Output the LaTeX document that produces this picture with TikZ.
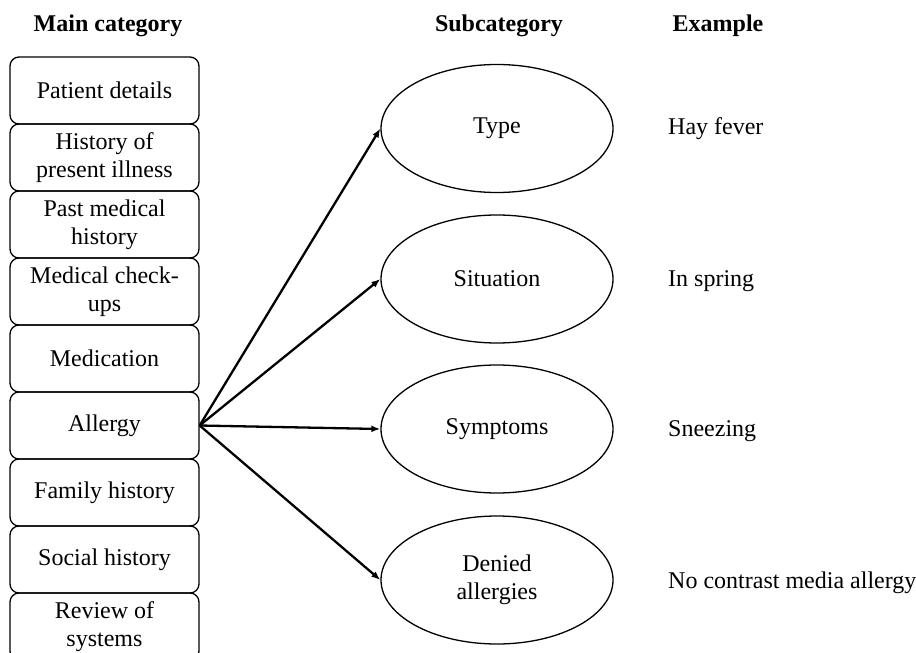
\documentclass[tikz,border=0pt]{standalone}
\usepackage{fontspec}
\setmainfont{Liberation Serif}
\usetikzlibrary{shapes.geometric,arrows.meta,positioning}

\begin{document}
\begin{tikzpicture}[
    x=1pt, y=-1pt,
    font=\fontsize{24}{28}\selectfont,
    head/.style = {font=\fontsize{24}{28}\selectfont\bfseries, inner sep=0pt},
    catbox/.style = {draw, rounded corners=9pt, line width=1.3pt,
        minimum width=189pt, minimum height=67pt, inner sep=0pt, align=center},
    subell/.style = {draw, ellipse, line width=1.3pt,
        minimum width=232pt, minimum height=128pt, inner sep=0pt, align=center},
    exlabel/.style = {anchor=west, inner sep=0pt},
    link/.style = {-{Latex[length=9pt,width=7pt]}, line width=2.3pt}
     ]
  \useasboundingbox (0,0) rectangle (916,653);
  % column heads
  \node[head] (hmain) at (108,26) {Main category};
  \node[head] (hsub) at (499,26) {Subcategory};
  \node[head] (hex) at (718,26) {Example};
  % main categories
  \foreach \name/\txt [count=\i from 0] in {
      pat/Patient details, hpi/History of\\present illness,
      pmh/Past medical\\history, chk/Medical check-\\ups,
      med/Medication, all/Allergy, fam/Family history,
      soc/Social history, ros/Review of\\systems}
    \node[catbox] (\name) at (104.5,90.5+67*\i) {\txt};
  % subcategories
  \node[subell] (type) at (497,128.5) {Type};
  \node[subell] (sit) at (497,279) {Situation};
  \node[subell] (sym) at (497,429) {Symptoms};
  \node[subell] (den) at (497,580) {Denied\\allergies};
  % examples
  \node[exlabel] (extype) at (668,129) {Hay fever};
  \node[exlabel] (exsit) at (668,281) {In spring};
  \node[exlabel] (exsym) at (668,431) {Sneezing};
  \node[exlabel] (exden) at (668,583) {No contrast media allergy};
  % arrows
  \foreach \sub in {type,sit,sym,den}
    \draw[link] (all.east) -- (\sub.west);
\end{tikzpicture}
\end{document}
